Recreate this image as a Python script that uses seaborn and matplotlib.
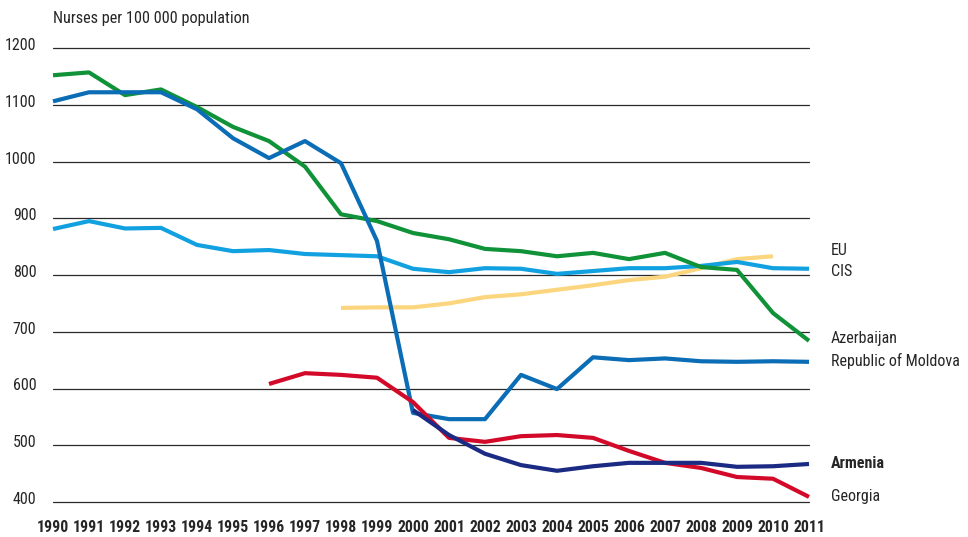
import matplotlib
matplotlib.use("Agg")
import matplotlib.pyplot as plt
import matplotlib.transforms as mtransforms
import seaborn as sns
import pandas as pd

years = list(range(1990, 2012))

azerbaijan = [1152, 1157, 1117, 1127, 1096, 1061, 1036, 991, 907, 895, 874, 863,
              846, 842, 833, 839, 828, 839, 814, 809, 733, 684]
moldova = [1106, 1122, 1122, 1122, 1092, 1041, 1006, 1036, 997, 860, 557, 546,
           546, 624, 599, 655, 650, 653, 648, 647, 648, 647]
cis = [881, 895, 882, 883, 853, 842, 844, 837, 835, 833, 811, 805,
       812, 811, 802, 807, 812, 812, 816, 823, 812, 811]
eu_years = list(range(1998, 2011))
eu = [742, 743, 743, 750, 761, 766, 774, 782, 791, 797, 812, 828, 833]
georgia_years = list(range(1996, 2012))
georgia = [608, 627, 624, 619, 576, 513, 506, 516, 518, 513, 490, 469,
           460, 444, 441, 409]
armenia_years = list(range(2000, 2012))
armenia = [562, 518, 485, 465, 455, 463, 469, 469, 469, 462, 463, 467]

series = {
    "EU": (eu_years, eu),
    "CIS": (years, cis),
    "Azerbaijan": (years, azerbaijan),
    "Republic of Moldova": (years, moldova),
    "Georgia": (georgia_years, georgia),
    "Armenia": (armenia_years, armenia),
}
colors = {
    "EU": "#fcd67e",
    "CIS": "#12a1e0",
    "Azerbaijan": "#109238",
    "Republic of Moldova": "#0a6db5",
    "Georgia": "#d3092a",
    "Armenia": "#1b2a82",
}

rows = []
for name, (xs, ys) in series.items():
    for x, y in zip(xs, ys):
        rows.append({"year": x, "value": y, "country": name})
df = pd.DataFrame(rows)

sns.set_style("white")
plt.rcParams["font.family"] = ["Roboto Condensed", "DejaVu Sans"]

fig = plt.figure(figsize=(9.68, 5.37), dpi=100)
ax = fig.add_axes([53 / 968, 1 - 502 / 537, (809 - 53) / 968, (502 - 48) / 537])

for y in range(400, 1300, 100):
    ax.axhline(y, color="#2a2a2a", lw=0.9, zorder=0, clip_on=False)

sns.lineplot(data=df, x="year", y="value", hue="country", palette=colors,
             hue_order=list(series.keys()), lw=3.0, ax=ax, legend=False,
             solid_capstyle="butt", clip_on=False)

ax.set_xlim(1990, 2011)
ax.set_ylim(400, 1200)
ax.set_xticks(years)
ax.set_xticklabels([str(y) for y in years], fontsize=11.3, fontweight="bold")
ax.set_yticks(range(400, 1300, 100))
ax.set_yticklabels([str(y) for y in range(400, 1300, 100)], fontsize=11.5)
ax.tick_params(axis="x", length=0, pad=13)
ax.tick_params(axis="y", length=0, pad=12)
# y labels sit a little above their gridline
shift = mtransforms.ScaledTranslation(0, 4 / 100, fig.dpi_scale_trans)
for lab in ax.get_yticklabels():
    lab.set_transform(lab.get_transform() + shift)
for s in ax.spines.values():
    s.set_visible(False)
ax.set_xlabel("")
ax.set_ylabel("")

fig.text(53 / 968, 1 - 19 / 537, "Nurses per 100 000 population", fontsize=11.7,
         ha="left", va="center")

labels = [("EU", 250, "normal"), ("CIS", 271, "normal"),
          ("Azerbaijan", 339, "normal"), ("Republic of Moldova", 361, "normal"),
          ("Armenia", 463, "bold"), ("Georgia", 496, "normal")]
for text, py, weight in labels:
    fig.text(831 / 968, 1 - py / 537, text, fontsize=11.5, fontweight=weight,
             ha="left", va="center")

fig.savefig("out.png", dpi=100)
